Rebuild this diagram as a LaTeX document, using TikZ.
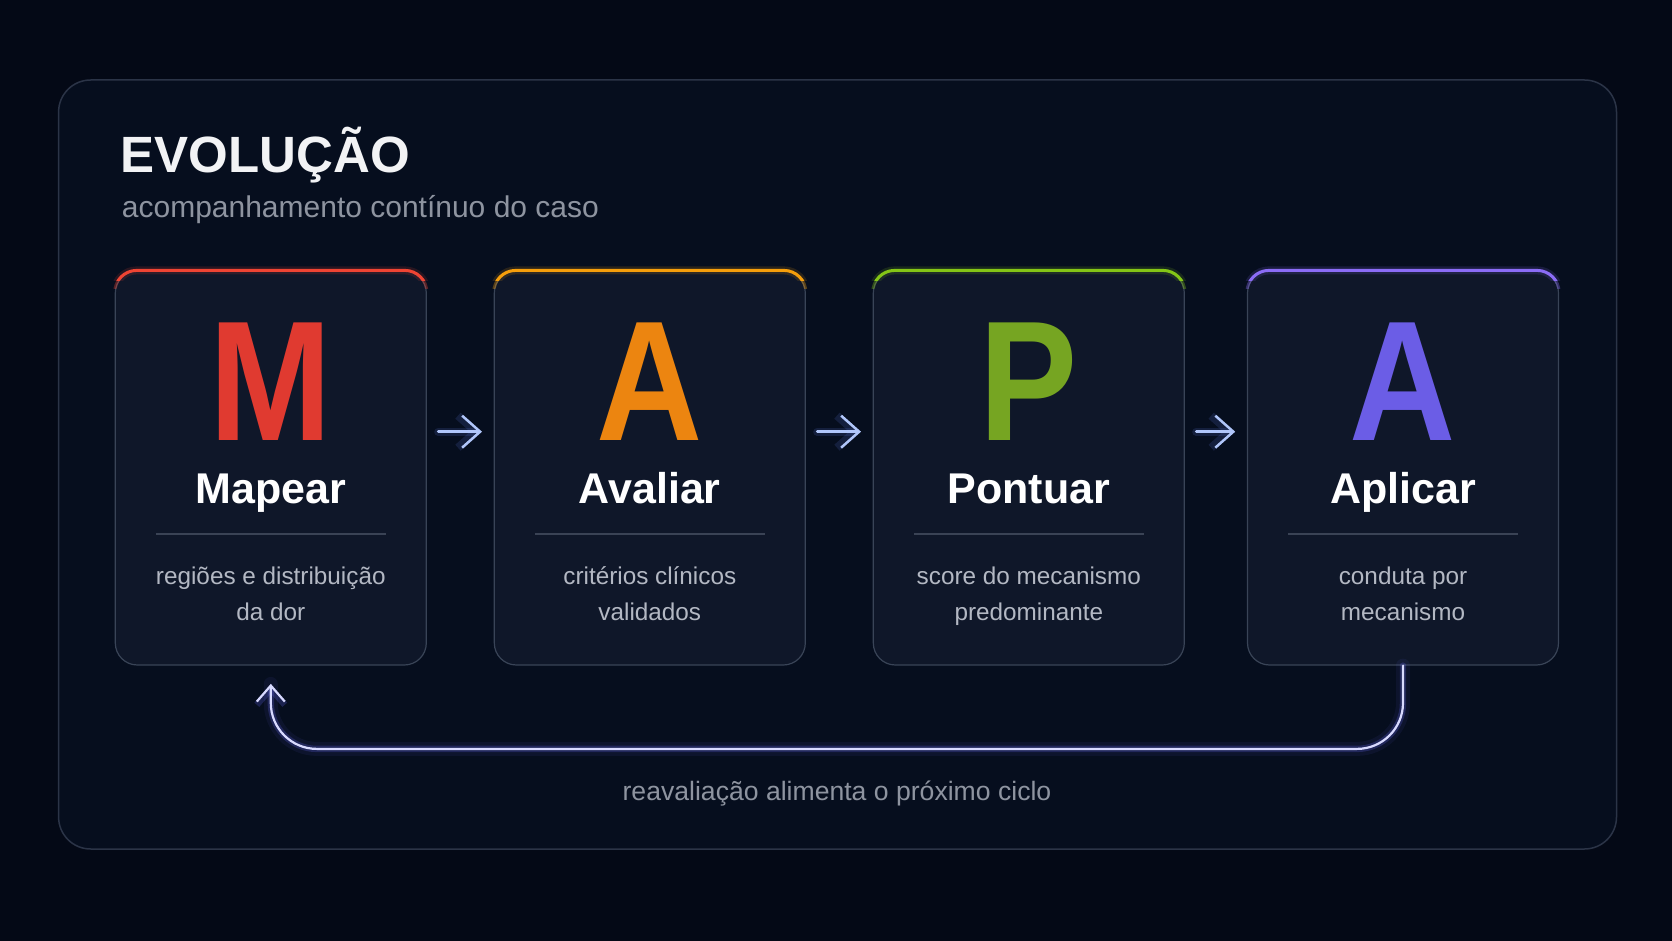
\documentclass[tikz,border=0pt]{standalone}
\usepackage{fontspec}
\usepackage{graphicx}
\setmainfont{Liberation Sans}
\usetikzlibrary{arrows.meta,calc}
\definecolor{bg}{HTML}{040916}
\definecolor{framefill}{HTML}{060E1E}
\definecolor{frameline}{HTML}{2B3447}
\definecolor{cardfill}{HTML}{0F1729}
\definecolor{cardline}{HTML}{394457}
\definecolor{divline}{HTML}{3A4355}
\definecolor{subtext}{HTML}{8E94A0}
\definecolor{desctext}{HTML}{B3B8C3}
\definecolor{titletext}{HTML}{F2F3F5}
\definecolor{cM}{HTML}{E03A30}
\definecolor{cA}{HTML}{EC8510}
\definecolor{cP}{HTML}{76A522}
\definecolor{cAA}{HTML}{6B5DE6}
\definecolor{eM}{HTML}{EF4433}
\definecolor{eA}{HTML}{F59E0B}
\definecolor{eP}{HTML}{84C516}
\definecolor{eAA}{HTML}{8B6CF6}
\definecolor{arrowc}{HTML}{B0C6FA}
\definecolor{glowc}{HTML}{6F8DFF}
\definecolor{loopglowc}{HTML}{6A6CFF}
\definecolor{loopc}{HTML}{D8DAFF}
\tikzset{
  card/.style={draw=cardline, line width=0.6pt, fill=cardfill, rounded corners=11pt,
    minimum width=155.5pt, minimum height=197pt, inner sep=0pt},
  topedge/.style={draw=#1, line width=1.5pt, rounded corners=11pt},
  topglow/.style={draw=#1, line width=4pt, opacity=0.15, rounded corners=11pt},
  bigletter/.style={anchor=base, font=\bfseries\fontsize{85.5}{90}\selectfont, inner sep=0pt, text depth=0pt},
  steplabel/.style={anchor=base, font=\bfseries\fontsize{21.5}{24}\selectfont, text=white, inner sep=0pt},
  desc/.style={anchor=base, font=\fontsize{12.15}{18}\selectfont, text=desctext, inner sep=0pt},
  divider/.style={draw=divline, line width=0.75pt},
  flowglow/.style={draw=glowc, line width=4pt, opacity=0.14, line cap=round,
    -{Straight Barb[length=9pt,width=16pt]}, shorten <=5.65pt, shorten >=5.85pt},
  flowarrow/.style={draw=arrowc, line width=1.25pt, line cap=round, line join=round,
    -{Straight Barb[length=9pt,width=16pt]}, shorten <=5.65pt, shorten >=5.85pt},
  loopglowwide/.style={draw=loopglowc, line width=7pt, opacity=0.07, rounded corners=23pt, line cap=round},
  loopglow/.style={draw=loopglowc, line width=3.2pt, opacity=0.22, rounded corners=23pt, line cap=round,
    -{Straight Barb[length=8pt,width=14pt]}},
  looparrow/.style={draw=loopc, line width=1.1pt, rounded corners=23pt, line cap=round, line join=round,
    -{Straight Barb[length=8pt,width=14pt]}},
}
\begin{document}
\begin{tikzpicture}[x=1pt, y=-1pt]
\useasboundingbox (0,0) rectangle (836,470.5);
\fill[bg] (0,0) rectangle (836,470.5);
% outer frame
\draw[frameline, fill=framefill, line width=0.75pt, rounded corners=16pt] (29.3,40) rectangle (808.25,424.5);
% title
\node[anchor=base west, inner sep=0pt, text=titletext, font=\bfseries\fontsize{25.5}{28}\selectfont] (title) at (60.25,86.35) {EVOLUÇÃO};
\node[anchor=base west, inner sep=0pt, text=subtext, font=\fontsize{15}{18}\selectfont] (subtitle) at (60.75,108.65) {acompanhamento contínuo do caso};
% cards
\node[card] (c1) at (135.4,234) {};
\node[card] (c2) at (324.9,234) {};
\node[card] (c3) at (514.4,234) {};
\node[card] (c4) at (701.5,234) {};
% coloured top edges (fading round the corners)
\foreach \c/\e in {c1/eM, c2/eA, c3/eP, c4/eAA}{
  \begin{scope}
    \clip ([xshift=-4pt,yshift=4pt]\c.north west) rectangle ([xshift=4pt,yshift=-5pt]\c.north east);
    \draw[topglow=\e] ([yshift=-11pt]\c.north west) -- (\c.north west) -- (\c.north east) -- ([yshift=-11pt]\c.north east);
    \draw[topedge=\e] ([yshift=-11pt]\c.north west) -- (\c.north west) -- (\c.north east) -- ([yshift=-11pt]\c.north east);
  \end{scope}
  \begin{scope}
    \clip ([xshift=-4pt,yshift=-5pt]\c.north west) rectangle ([xshift=4pt,yshift=-9pt]\c.north east);
    \draw[topedge=\e, opacity=0.35] ([yshift=-11pt]\c.north west) -- (\c.north west) -- (\c.north east) -- ([yshift=-11pt]\c.north east);
  \end{scope}
}
% big letters
\node[bigletter, text=cM] (l1) at ($(c1.center)+(0,-13.65)$) {\scalebox{0.86}[1]{M}};
\node[bigletter, text=cA] (l2) at ($(c2.center)+(0,-13.65)$) {\scalebox{0.86}[1]{A}};
\node[bigletter, text=cP] (l3) at ($(c3.center)+(0,-13.65)$) {\scalebox{0.86}[1]{P}};
\node[bigletter, text=cAA] (l4) at ($(c4.center)+(0,-13.65)$) {\scalebox{0.86}[1]{A}};
% labels
\node[steplabel] (s1) at ($(c1.center)+(0,17.5)$) {Mapear};
\node[steplabel] (s2) at ($(c2.center)+(0,17.5)$) {Avaliar};
\node[steplabel] (s3) at ($(c3.center)+(0,17.5)$) {Pontuar};
\node[steplabel] (s4) at ($(c4.center)+(0,17.5)$) {Aplicar};
% dividers
\foreach \c in {c1,c2,c3,c4}{
  \draw[divider] ($(\c.center)+(-57.5,33)$) -- ($(\c.center)+(57.5,33)$);
}
% descriptions
\node[desc] (d1a) at ($(c1.center)+(0,58)$) {regiões e distribuição};
\node[desc] (d1b) at ($(c1.center)+(0,76)$) {da dor};
\node[desc] (d2a) at ($(c2.center)+(0,58)$) {critérios clínicos};
\node[desc] (d2b) at ($(c2.center)+(0,76)$) {validados};
\node[desc] (d3a) at ($(c3.center)+(0,58)$) {score do mecanismo};
\node[desc] (d3b) at ($(c3.center)+(0,76)$) {predominante};
\node[desc] (d4a) at ($(c4.center)+(0,58)$) {conduta por};
\node[desc] (d4b) at ($(c4.center)+(0,76)$) {mecanismo};
% flow arrows
\foreach \a/\b in {c1/c2, c2/c3, c3/c4}{
  \draw[flowglow] ([yshift=18.15pt]\a.east) -- ([yshift=18.15pt]\b.west);
  \draw[flowarrow] ([yshift=18.15pt]\a.east) -- ([yshift=18.15pt]\b.west);
}
% feedback loop
\coordinate (loopend) at ([yshift=-9.15pt]c1.south);
\draw[loopglowwide] (c4.south) -- ++(0,-41.65pt) -| (loopend);
\draw[loopglow] (c4.south) -- ++(0,-41.65pt) -| (loopend);
\draw[looparrow] (c4.south) -- ++(0,-41.65pt) -| (loopend);
\node[anchor=base, inner sep=0pt, text=subtext, font=\fontsize{13.3}{16}\selectfont] (caption) at (418.5,400) {reavaliação alimenta o próximo ciclo};
\end{tikzpicture}
\end{document}
